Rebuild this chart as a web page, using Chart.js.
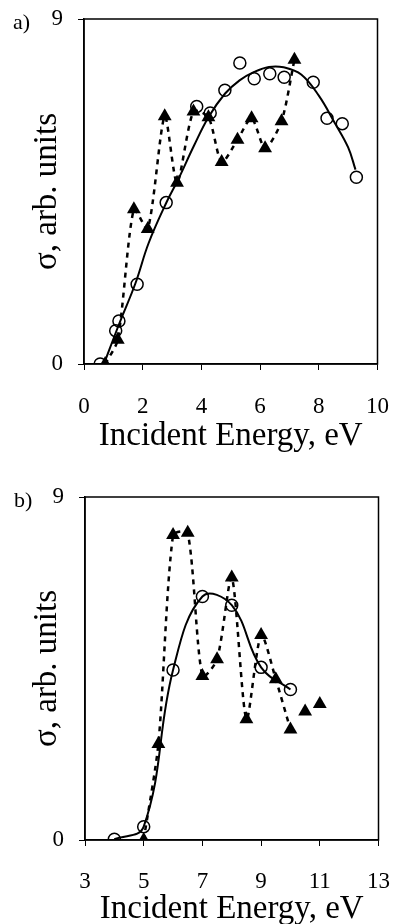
<!DOCTYPE html>
<html>
<head>
<meta charset="utf-8">
<script src="https://cdn.jsdelivr.net/npm/chart.js@4"></script>
<style>
body { margin: 0; background: #fff; overflow: hidden; }
canvas { position: absolute; left: 0; }
</style>
</head>
<body>
<canvas id="chartA" width="412" height="460" style="top:0"></canvas>
<canvas id="chartB" width="412" height="470" style="top:460px"></canvas>
<script>
// panel a
const aCircleX = [0.55, 1.08, 1.19, 1.81, 2.8, 3.84, 4.3, 4.8, 5.31, 5.8, 6.33, 6.82, 7.81, 8.28, 8.8, 9.28];
const aCircleY = [0, 0.87, 1.12, 2.08, 4.21, 6.72, 6.55, 7.14, 7.85, 7.44, 7.57, 7.48, 7.35, 6.41, 6.27, 4.87];
const aTriX = [0.72, 1.15, 1.7, 2.17, 2.75, 3.17, 3.73, 4.24, 4.69, 5.23, 5.71, 6.17, 6.73, 7.17];
const aTriY = [0, 0.63, 4.04, 3.52, 6.46, 4.73, 6.59, 6.44, 5.27, 5.85, 6.41, 5.63, 6.33, 7.94];
const aFitX = [0.68, 1.2, 1.75, 2.2, 2.8, 3.2, 3.75, 4.25, 4.8, 5.3, 5.8, 6.3, 6.8, 7.4, 8.0, 8.55, 9.0, 9.25];
const aFitY = [0, 1.05, 2.1, 3.15, 4.2, 4.8, 5.7, 6.45, 7.05, 7.4, 7.62, 7.75, 7.74, 7.55, 7.0, 6.28, 5.65, 5.07];
const aXTicks = [0, 10, 2];

// panel b
const bCircleX = [4, 5, 6, 7, 8, 9, 10];
const bCircleY = [0.02, 0.35, 4.46, 6.39, 6.16, 4.53, 3.95];
const bTriX = [5, 5.5, 6, 6.5, 7, 7.5, 8, 8.5, 9, 9.5, 10, 10.5, 11];
const bTriY = [0, 2.52, 8.0, 8.06, 4.3, 4.74, 6.89, 3.17, 5.38, 4.22, 2.9, 3.37, 3.57];
const bDottedCount = 11; // the dotted line stops at 10 eV
const bXTicks = [3, 13, 2];

const yRange = [0, 9];
const yTitle = 'σ, arb. units';
const xTitle = 'Incident Energy, eV';

const serif = 'Liberation Serif';
const pts = (xs, ys) => xs.map((x, i) => ({x: x, y: ys[i]}));

const frame = {
  id: 'frame',
  afterDraw(chart, args, opts) {
    const {ctx, chartArea: a} = chart;
    ctx.save();
    ctx.strokeStyle = '#000';
    ctx.lineWidth = 1.5;
    ctx.strokeRect(a.left, a.top, a.right - a.left, a.bottom - a.top);
    ctx.fillStyle = '#000';
    ctx.font = '22px "' + serif + '"';
    ctx.textBaseline = 'middle';
    ctx.fillText(opts.label, a.left - 71, a.top + 4);
    ctx.restore();
  }
};

function makeChart(id, cfg) {
  return new Chart(document.getElementById(id), {
    type: 'scatter',
    data: {
      datasets: [
        {
          data: cfg.fit, showLine: true, borderColor: '#000', borderWidth: 2,
          pointRadius: 0, tension: 0.4, fill: false
        },
        {
          data: cfg.dotted, showLine: true, borderColor: '#000', borderWidth: 2.5,
          borderDash: [5, 5], pointRadius: 0, tension: 0.25, fill: false
        },
        {
          data: cfg.circles, pointStyle: 'circle', pointRadius: 6,
          pointBorderWidth: 1.5, pointBorderColor: '#000', pointBackgroundColor: 'rgba(0,0,0,0)'
        },
        {
          data: cfg.triangles, pointStyle: 'triangle', pointRadius: 8,
          pointBorderWidth: 0, pointBackgroundColor: '#000', pointBorderColor: '#000'
        }
      ]
    },
    options: {
      responsive: false,
      animation: false,
      layout: { padding: cfg.pad },
      plugins: { legend: { display: false }, tooltip: { enabled: false }, frame: { label: cfg.label } },
      scales: {
        x: {
          min: cfg.xt[0], max: cfg.xt[1],
          ticks: { stepSize: cfg.xt[2], color: '#000', padding: cfg.xPad, font: { family: serif, size: 23 } },
          grid: { drawOnChartArea: false, tickLength: 6, color: '#000' },
          border: { color: '#000', width: 1.5 },
          title: { display: true, text: xTitle, color: '#000', padding: 0, font: { family: serif, size: 33 } },
          afterFit(s) { s.height = cfg.xH; }
        },
        y: {
          min: yRange[0], max: yRange[1],
          ticks: { stepSize: 9, color: '#000', padding: 15, font: { family: serif, size: 23 } },
          grid: { drawOnChartArea: false, tickLength: 6, color: '#000' },
          border: { color: '#000', width: 1.5 },
          title: { display: true, text: yTitle, color: '#000', padding: { top: 28, bottom: 0 }, font: { family: serif, size: 33 } },
          afterFit(s) { s.width = cfg.yW; s.paddingTop = 0; s.paddingBottom = 0; }
        }
      }
    },
    plugins: [frame]
  });
}

makeChart('chartA', {
  label: 'a)',
  fit: pts(aFitX, aFitY),
  dotted: pts(aTriX, aTriY),
  circles: pts(aCircleX, aCircleY),
  triangles: pts(aTriX, aTriY),
  xt: aXTicks,
  pad: { top: 19, right: 18, bottom: 4, left: 0 },
  xH: 92, yW: 84, xPad: 23
});

makeChart('chartB', {
  label: 'b)',
  fit: pts(bCircleX, bCircleY),
  dotted: pts(bTriX.slice(0, bDottedCount), bTriY.slice(0, bDottedCount)),
  circles: pts(bCircleX, bCircleY),
  triangles: pts(bTriX, bTriY),
  xt: bXTicks,
  pad: { top: 37, right: 13, bottom: 1, left: 0 },
  xH: 89, yW: 85, xPad: 22
});
</script>
</body>
</html>
